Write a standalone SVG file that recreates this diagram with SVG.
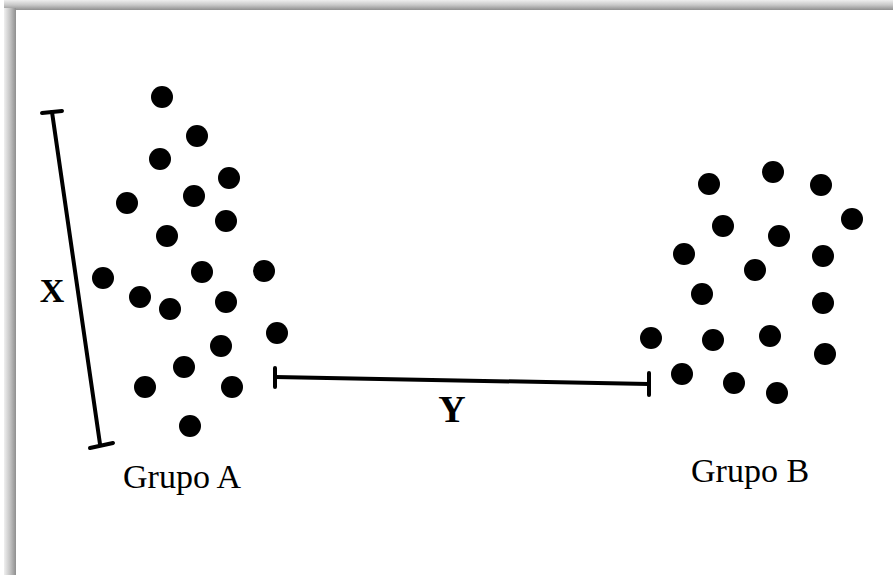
<svg xmlns="http://www.w3.org/2000/svg" width="893" height="575" viewBox="0 0 893 575">
<defs>
<linearGradient id="gTop" x1="0" y1="0" x2="0" y2="1">
<stop offset="0" stop-color="#eeeeee"/>
<stop offset="0.5" stop-color="#c8c8c8"/>
<stop offset="1" stop-color="#8f8f8f"/>
</linearGradient>
<linearGradient id="gLeft" x1="0" y1="0" x2="1" y2="0">
<stop offset="0" stop-color="#f0f0f0"/>
<stop offset="0.5" stop-color="#c4c4c4"/>
<stop offset="1" stop-color="#8f8f8f"/>
</linearGradient>
<style>
.dot{fill:#000}
.bar{stroke:#000;stroke-width:4;stroke-linecap:round;fill:none}
.lbl{font-family:"Liberation Serif","Times New Roman",serif;fill:#000}
.big{font-weight:bold}
</style>
</defs>
<rect x="0" y="0" width="893" height="575" fill="#fff"/>
<rect x="4" y="0" width="889" height="10" fill="url(#gTop)"/>
<rect x="4" y="8" width="12" height="567" fill="url(#gLeft)"/>
<rect x="16" y="10" width="877" height="565" fill="#fff"/>

<g id="connectors">
<g id="x-bar">
<line class="bar" x1="52" y1="112" x2="100" y2="444"/>
<line class="bar" x1="42" y1="113" x2="62" y2="111"/>
<line class="bar" x1="90" y1="448" x2="113" y2="443"/>
</g>
<g id="y-bar">
<line class="bar" x1="275" y1="377" x2="649" y2="384"/>
<line class="bar" x1="275" y1="368" x2="275" y2="387"/>
<line class="bar" x1="649" y1="373" x2="649" y2="395"/>
</g>
</g>

<g id="groupA">
<circle class="dot" cx="162" cy="97" r="11"/>
<circle class="dot" cx="197" cy="136" r="11"/>
<circle class="dot" cx="160" cy="159" r="11"/>
<circle class="dot" cx="229" cy="178" r="11"/>
<circle class="dot" cx="127" cy="203" r="11"/>
<circle class="dot" cx="194" cy="196" r="11"/>
<circle class="dot" cx="226" cy="221" r="11"/>
<circle class="dot" cx="167" cy="236" r="11"/>
<circle class="dot" cx="103" cy="278" r="11"/>
<circle class="dot" cx="202" cy="272" r="11"/>
<circle class="dot" cx="264" cy="271" r="11"/>
<circle class="dot" cx="140" cy="297" r="11"/>
<circle class="dot" cx="170" cy="309" r="11"/>
<circle class="dot" cx="226" cy="302" r="11"/>
<circle class="dot" cx="277" cy="333" r="11"/>
<circle class="dot" cx="221" cy="346" r="11"/>
<circle class="dot" cx="184" cy="367" r="11"/>
<circle class="dot" cx="145" cy="387" r="11"/>
<circle class="dot" cx="232" cy="387" r="11"/>
<circle class="dot" cx="190" cy="426" r="11"/>
</g>

<g id="groupB">
<circle class="dot" cx="709" cy="184" r="11"/>
<circle class="dot" cx="773" cy="172" r="11"/>
<circle class="dot" cx="821" cy="185" r="11"/>
<circle class="dot" cx="852" cy="219" r="11"/>
<circle class="dot" cx="723" cy="226" r="11"/>
<circle class="dot" cx="779" cy="236" r="11"/>
<circle class="dot" cx="684" cy="254" r="11"/>
<circle class="dot" cx="823" cy="256" r="11"/>
<circle class="dot" cx="755" cy="270" r="11"/>
<circle class="dot" cx="702" cy="294" r="11"/>
<circle class="dot" cx="823" cy="303" r="11"/>
<circle class="dot" cx="651" cy="338" r="11"/>
<circle class="dot" cx="713" cy="340" r="11"/>
<circle class="dot" cx="770" cy="336" r="11"/>
<circle class="dot" cx="825" cy="354" r="11"/>
<circle class="dot" cx="682" cy="374" r="11"/>
<circle class="dot" cx="734" cy="383" r="11"/>
<circle class="dot" cx="777" cy="393" r="11"/>
</g>

<g id="labels">
<text class="lbl big" x="52" y="302" font-size="34" text-anchor="middle">X</text>
<text class="lbl big" x="452" y="422" font-size="38" text-anchor="middle">Y</text>
<text class="lbl" x="123" y="488" font-size="34">Grupo A</text>
<text class="lbl" x="691" y="482" font-size="34">Grupo B</text>
</g>
</svg>
